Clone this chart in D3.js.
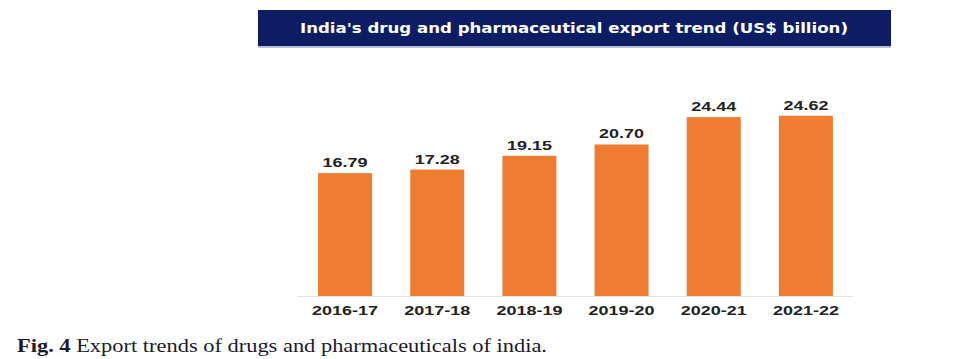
<!DOCTYPE html>
<html><head><meta charset="utf-8">
<script src="https://cdn.jsdelivr.net/npm/d3@7"></script>
<style>body{margin:0;background:#fff}svg{display:block}</style>
</head><body>
<svg id="c" width="964" height="359"></svg>
<script>
const categories = ["2016-17","2017-18","2018-19","2019-20","2020-21","2021-22"];
const values = [16.79, 17.28, 19.15, 20.70, 24.44, 24.62];
const labels = ["16.79","17.28","19.15","20.70","24.44","24.62"];
const title = "India's drug and pharmaceutical export trend (US$ billion)";
const captionBold = "Fig. 4";
const captionText = " Export trends of drugs and pharmaceuticals of india.";

const svg = d3.select("#c");
// title banner
svg.append("rect").attr("x",258).attr("y",10).attr("width",633).attr("height",37).attr("fill","#0e1d63");
svg.append("rect").attr("x",258).attr("y",46).attr("width",633).attr("height",2).attr("fill","#b9c0d8");
svg.append("text").attr("x",574).attr("y",33).attr("text-anchor","middle")
  .attr("font-family","DejaVu Sans").attr("font-weight","bold").attr("font-size",14.5)
  .attr("fill","#fff").attr("textLength",548).attr("lengthAdjust","spacingAndGlyphs").text(title);

const x = d3.scaleBand().domain(categories).range([299,852]).paddingInner(0.414).paddingOuter(0.207);
const y = d3.scaleLinear().domain([0,25]).range([296,296-25*7.32]);

svg.append("line").attr("x1",298).attr("x2",853).attr("y1",296.5).attr("y2",296.5).attr("stroke","#e3e3e3").attr("stroke-width",1);

svg.selectAll("rect.bar").data(values).join("rect").attr("class","bar")
  .attr("x",(d,i)=>x(categories[i])).attr("width",x.bandwidth())
  .attr("y",d=>y(d)).attr("height",d=>y(0)-y(d)).attr("fill","#ee7d31");

svg.selectAll("text.val").data(values).join("text").attr("class","val")
  .attr("x",(d,i)=>x(categories[i])+x.bandwidth()/2).attr("y",d=>y(d)-6)
  .attr("text-anchor","middle").attr("font-family","Liberation Sans").attr("font-weight","bold")
  .attr("font-size",13).attr("fill","#222").attr("textLength",45).attr("lengthAdjust","spacingAndGlyphs")
  .text((d,i)=>labels[i]);

const xa = svg.append("g").attr("transform","translate(0,296)").call(d3.axisBottom(x).tickSize(0).tickPadding(0));
xa.select(".domain").remove();
xa.selectAll("text").attr("y",19).attr("dy",0).attr("font-family","Liberation Sans").attr("font-weight","bold")
  .attr("font-size",13).attr("fill","#222").attr("textLength",66).attr("lengthAdjust","spacingAndGlyphs");

const cap = svg.append("text").attr("x",17).attr("y",352).attr("font-family","Liberation Serif")
  .attr("font-size",19).attr("fill","#1a1a2a").attr("textLength",530).attr("lengthAdjust","spacingAndGlyphs");
cap.append("tspan").attr("font-weight","bold").text(captionBold);
cap.append("tspan").text(captionText);
</script>
</body></html>
